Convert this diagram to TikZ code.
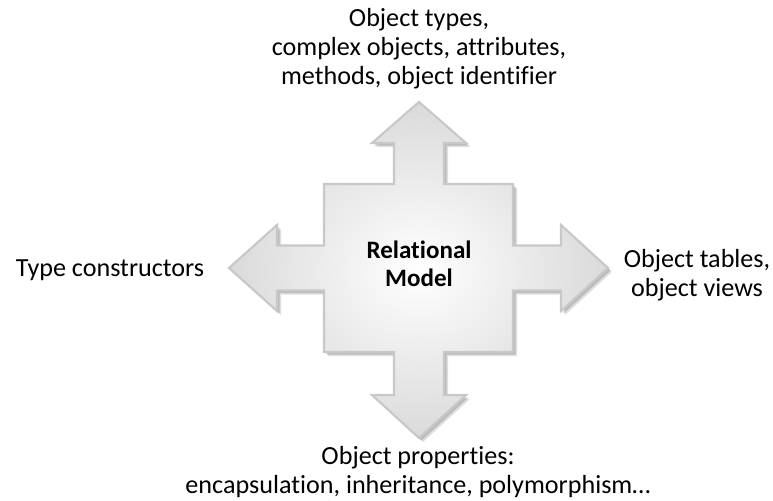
\documentclass[tikz,border=0pt]{standalone}
\usepackage{fontspec}
\setmainfont{Carlito}[Ligatures=NoCommon]
\definecolor{arrowedge}{RGB}{200,200,200}
\definecolor{arrowfill}{RGB}{218,218,218}
\definecolor{shadowcol}{RGB}{165,165,165}
\begin{document}
\begin{tikzpicture}[x=0.75pt,y=-0.75pt,
  lbl/.style={font=\fontsize{19.6}{21.75}\selectfont, align=center, inner sep=0pt, text=black},
  ctr/.style={font=\fontsize{18.8}{21}\selectfont\bfseries, align=center, inner sep=0pt, text=black}]
\useasboundingbox (0,0) rectangle (773,500);
\fill[white] (0,0) rectangle (773,500);
\def\qarrow{(324,184) -- (394,184) -- (394,143) -- (372,143) -- (419,102) -- (466,143) -- (444,143) -- (444,184) -- (513,184) -- (513,245.5) -- (561,245.5) -- (561,225) -- (608,268) -- (561,311) -- (561,290.5) -- (513,290.5) -- (513,352) -- (444,352) -- (444,395) -- (466,395) -- (419,438) -- (372,395) -- (394,395) -- (394,352) -- (324,352) -- (324,290.5) -- (277,290.5) -- (277,311) -- (229,268) -- (277,225) -- (277,245.5) -- (324,245.5) -- cycle}
% shadow
\begin{scope}[shift={(4,4)}]
  \fill[shadowcol, opacity=0.35] \qarrow;
\end{scope}
\begin{scope}[shift={(2.5,2.5)}]
  \fill[shadowcol, opacity=0.6] \qarrow;
\end{scope}
% body
\shade[inner color=white, outer color=arrowfill] \qarrow;
\draw[arrowedge, line width=1.6] \qarrow;
% labels (base anchor = baseline of the last line)
\node[ctr, anchor=base] (model) at (419,286) {Relational\\Model};
\node[lbl, anchor=base] (top) at (419,84) {Object types,\\complex objects, attributes,\\methods, object identifier};
\node[lbl, anchor=base] (left) at (110,276) {Type constructors};
\node[lbl, anchor=base] (right) at (697,296) {Object tables,\\object views};
\node[lbl, anchor=base] (bottom) at (418,493) {Object properties:\\encapsulation, inheritance, polymorphism…};
\end{tikzpicture}
\end{document}
